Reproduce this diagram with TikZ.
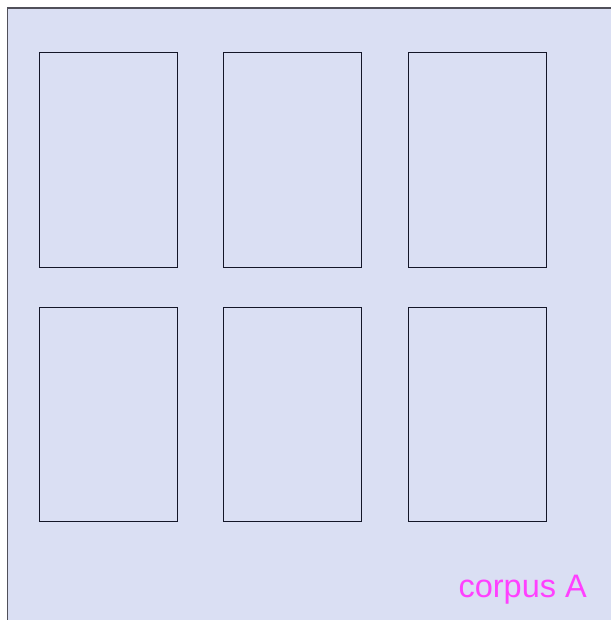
\documentclass[tikz,border=0pt]{standalone}
\usepackage{fontspec}
\setmainfont{Liberation Sans}
\usetikzlibrary{positioning}
\definecolor{corpusbg}{RGB}{218, 223, 243}
\definecolor{corpusline}{RGB}{80, 80, 90}
\definecolor{doc}{RGB}{20, 22, 40}
\definecolor{label}{RGB}{255, 64, 255}

\begin{document}
\begin{tikzpicture}[x=1pt, y=-1pt,
    page/.style={draw=doc, line width=0.9pt, minimum width=138pt,
                 minimum height=214pt, inner sep=0pt, anchor=north west}
]
\useasboundingbox (0,0) rectangle (610,620);
\fill[corpusbg] (7.5,8) rectangle (615,625);
\draw[corpusline, line width=1.1pt] (7.5,625) -- (7.5,8) -- (615,8);
\node[page] (d11) at (38.5,52.5) {};
\node[page, right=46pt of d11] (d12) {};
\node[page, right=46pt of d12] (d13) {};
\node[page, below=40pt of d11] (d21) {};
\node[page, right=46pt of d21] (d22) {};
\node[page, right=46pt of d22] (d23) {};
\node[anchor=base east, inner sep=0pt, font=\fontsize{32.5}{38}\selectfont,
      text=label] (corpus) at (587,597) {corpus A};
\end{tikzpicture}
\end{document}
